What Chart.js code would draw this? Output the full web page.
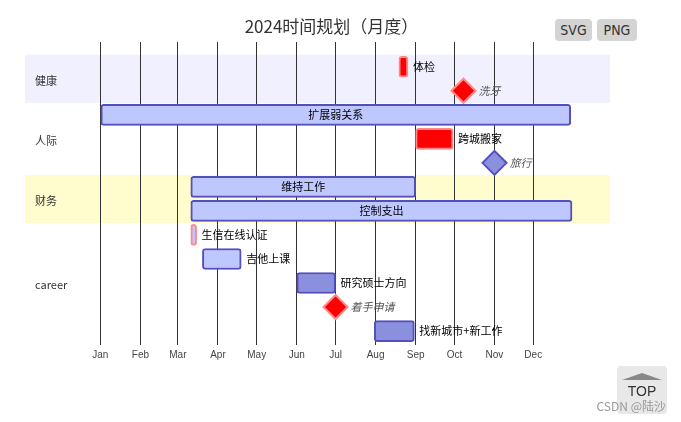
<!DOCTYPE html>
<html>
<head>
<meta charset="utf-8">
<script src="https://cdn.jsdelivr.net/npm/chart.js@4.4.0/dist/chart.umd.min.js"></script>
<style>
  body { margin: 0; background: #fff; }
  #wrap { position: relative; width: 681px; height: 422px; font-family: "Noto Sans CJK SC", sans-serif; }
  #title { position: absolute; left: 0; top: 14px; width: 663px; text-align: center; font-size: 17px; line-height: 24px; color: #333; }
  .btn { position: absolute; top: 19px; height: 22px; line-height: 22px; background: #d4d4d4; border-radius: 4px; text-align: center; color: #333; font-size: 14px; font-family: "Liberation Sans Narrow", "DejaVu Sans Condensed", sans-serif; }
  #top { position: absolute; left: 617px; top: 366px; width: 50px; height: 48px; background: #e8e8e8; border-radius: 4px; }
  #arrow { position: absolute; left: 5px; top: 7px; width: 0; height: 0; border-left: 20px solid transparent; border-right: 20px solid transparent; border-bottom: 7px solid #888; }
  #toptxt { position: absolute; left: 0; top: 17px; width: 50px; text-align: center; font: 14px "Liberation Sans", sans-serif; color: #333; }
  #mark { position: absolute; right: 15px; top: 398px; font-size: 12px; line-height: 16px; color: #999; }
</style>
</head>
<body>
<div id="wrap">
  <canvas id="gantt" width="681" height="422"></canvas>
  <div id="title">2024时间规划（月度）</div>
  <div class="btn" style="left:555px;width:37px;">SVG</div>
  <div class="btn" style="left:597px;width:40px;">PNG</div>
  <div id="top"><div id="arrow"></div><div id="toptxt">TOP</div></div>
  <div id="mark">CSDN @陆沙</div>
</div>
<script>
// 2024 月份（x 轴为一年中的第几天）
const monthNames = ['Jan', 'Feb', 'Mar', 'Apr', 'May', 'Jun', 'Jul', 'Aug', 'Sep', 'Oct', 'Nov', 'Dec'];
const monthStarts = [0, 31, 60, 91, 121, 152, 182, 213, 244, 274, 305, 335];

// 分区
const sections = ['健康', '人际', '财务', 'career'];
const sectionRows = [[0, 1], [2, 4], [5, 6], [7, 11]];
const sectionFills = ['#f0f0ff', null, '#fffdcd', null];

// 任务
const taskNames = ['体检', '扩展弱关系', '跨城搬家', '维持工作', '控制支出', '生信在线认证', '吉他上课', '研究硕士方向', '找新城市+新工作'];
const taskRows = [0, 2, 3, 5, 6, 7, 8, 9, 11];
const taskStart = [231, 0, 244, 70, 70, 70, 79, 152, 212];
const taskEnd = [238, 364, 273, 244, 365, 74.5, 109, 182, 243];
const taskKinds = ['crit', 'active', 'crit', 'active', 'active', 'activeCrit', 'active', 'task', 'task'];

// 里程碑
const mileNames = ['洗牙', '旅行', '着手申请'];
const mileRows = [1, 4, 10];
const mileDays = [281, 305, 182];
const mileKinds = ['crit', 'task', 'crit'];

const kindFill = { crit: '#ff0000', active: '#bfc7ff', activeCrit: '#bfc7ff', task: '#8a90dd' };
const kindBorder = { crit: '#ff8888', active: '#534fbc', activeCrit: '#ff8888', task: '#534fbc' };

const bandPlugin = {
  id: 'bands',
  beforeDraw(chart) {
    const { ctx, chartArea, scales } = chart;
    ctx.save();
    sectionRows.forEach(function (r, i) {
      if (!sectionFills[i]) return;
      const top = scales.y.getPixelForValue(r[0] - 0.5);
      const bottom = scales.y.getPixelForValue(r[1] + 0.5);
      ctx.fillStyle = sectionFills[i];
      ctx.fillRect(chartArea.left, top, chartArea.right - chartArea.left, bottom - top);
    });
    ctx.restore();
  }
};

const labelPlugin = {
  id: 'taskLabels',
  afterDatasetsDraw(chart) {
    const c = chart.ctx;
    c.save();
    c.textBaseline = 'middle';
    c.font = '11px "Noto Sans CJK SC"';
    c.fillStyle = '#000';
    chart.getDatasetMeta(0).data.forEach(function (bar, i) {
      const left = Math.min(bar.x, bar.base), right = Math.max(bar.x, bar.base);
      const w = c.measureText(taskNames[i]).width;
      if (right - left > w + 10) {
        c.textAlign = 'center';
        c.fillText(taskNames[i], (left + right) / 2, bar.y);
      } else {
        c.textAlign = 'left';
        c.fillText(taskNames[i], right + 5, bar.y);
      }
    });
    c.font = 'italic 11px "Noto Sans CJK SC"';
    c.fillStyle = '#555';
    c.textAlign = 'left';
    chart.getDatasetMeta(1).data.forEach(function (pt, i) {
      c.fillText(mileNames[i], pt.x + 15, pt.y);
    });
    c.restore();
  }
};

const ctx = document.getElementById('gantt');

new Chart(ctx, {
  data: {
    datasets: [{
      type: 'bar',
      data: taskNames.map(function (n, i) { return { x: [taskStart[i], taskEnd[i]], y: taskRows[i] }; }),
      backgroundColor: taskKinds.map(function (k) { return kindFill[k]; }),
      borderColor: taskKinds.map(function (k) { return kindBorder[k]; }),
      borderWidth: 2,
      borderRadius: 3,
      borderSkipped: false,
      barThickness: 21
    }, {
      type: 'scatter',
      data: mileNames.map(function (n, i) { return { x: mileDays[i], y: mileRows[i] }; }),
      pointStyle: 'rectRot',
      pointRadius: 12,
      pointBackgroundColor: mileKinds.map(function (k) { return kindFill[k]; }),
      pointBorderColor: mileKinds.map(function (k) { return kindBorder[k]; }),
      pointBorderWidth: 2
    }]
  },
  options: {
    indexAxis: 'y',
    responsive: false,
    animation: false,
    layout: { padding: { left: 5, right: 71, top: 42, bottom: 57 } },
    plugins: {
      legend: { display: false },
      tooltip: { enabled: false },
      title: { display: false }
    },
    scales: {
      x: {
        type: 'linear',
        min: -58.3,
        max: 394.4,
        offset: false,
        afterBuildTicks: function (s) { s.ticks = monthStarts.map(function (v) { return { value: v }; }); },
        ticks: {
          autoSkip: false,
          maxRotation: 0,
          padding: 4,
          color: '#444',
          font: { family: 'Liberation Sans', size: 10 },
          callback: function (v, i) { return monthNames[i]; }
        },
        grid: { color: '#333', drawTicks: false, offset: false },
        border: { display: false }
      },
      y: {
        type: 'linear',
        reverse: true,
        min: -1.03,
        max: 11.58,
        offset: false,
        afterBuildTicks: function (s) {
          s.ticks = sectionRows.map(function (r) { return { value: (r[0] + r[1]) / 2 }; });
        },
        ticks: {
          mirror: true,
          padding: 10,
          labelOffset: 2,
          color: '#333',
          font: { family: 'Noto Sans CJK SC', size: 11 },
          callback: function (v, i) { return sections[i]; }
        },
        grid: { display: false, drawTicks: false, offset: false },
        border: { display: false }
      }
    }
  },
  plugins: [bandPlugin, labelPlugin]
});
</script>
</body>
</html>
